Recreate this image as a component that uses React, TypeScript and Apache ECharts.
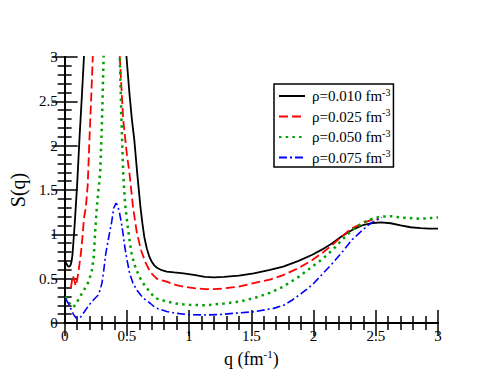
import React, { useEffect, useRef } from "react";
import * as echarts from "echarts";

// rho = 0.010 fm^-3 (black, solid)
const qBlack = [0.005, 0.015, 0.027, 0.037, 0.047, 0.055, 0.063, 0.08, 0.1, 0.12, 0.14, 0.155, 0.17, 0.49, 0.497, 0.52, 0.54, 0.56, 0.583, 0.609, 0.625, 0.64, 0.66, 0.68, 0.7, 0.72, 0.745, 0.78, 0.82, 0.88, 0.955, 1.05, 1.126, 1.2, 1.28, 1.4, 1.52, 1.65, 1.756, 1.88, 1.99, 2.07, 2.15, 2.23, 2.31, 2.39, 2.46, 2.54, 2.62, 2.7, 2.78, 2.86, 2.93, 3.0];
const sBlack = [0.7, 0.665, 0.64, 0.635, 0.65, 0.69, 0.77, 1.1, 1.55, 2.1, 2.6, 3.0, 3.4, 3.4, 3.0, 2.6, 2.3, 2.06, 1.69, 1.31, 1.12, 0.97, 0.84, 0.75, 0.69, 0.65, 0.62, 0.595, 0.58, 0.57, 0.56, 0.54, 0.52, 0.515, 0.52, 0.535, 0.56, 0.6, 0.635, 0.7, 0.77, 0.83, 0.9, 0.98, 1.05, 1.1, 1.125, 1.135, 1.125, 1.1, 1.08, 1.07, 1.065, 1.065];

// rho = 0.025 fm^-3 (red, dashed)
const qRed = [0.05, 0.058, 0.065, 0.075, 0.088, 0.1, 0.115, 0.13, 0.142, 0.155, 0.17, 0.185, 0.2, 0.215, 0.226, 0.24, 0.43, 0.443, 0.47, 0.5, 0.52, 0.55, 0.58, 0.614, 0.65, 0.69, 0.74, 0.78, 0.82, 0.89, 0.955, 1.05, 1.126, 1.2, 1.28, 1.4, 1.52, 1.65, 1.756, 1.88, 1.99, 2.07, 2.15, 2.23, 2.31, 2.4, 2.46, 2.52];
const sRed = [0.39, 0.47, 0.53, 0.5, 0.42, 0.48, 0.62, 0.78, 0.95, 1.18, 1.3, 1.55, 2.1, 2.6, 3.0, 3.5, 3.5, 3.0, 2.3, 1.9, 1.7, 1.3, 1.02, 0.82, 0.68, 0.57, 0.5, 0.48, 0.466, 0.43, 0.41, 0.39, 0.383, 0.383, 0.39, 0.41, 0.45, 0.49, 0.54, 0.62, 0.71, 0.79, 0.88, 0.98, 1.07, 1.13, 1.16, 1.17];

// rho = 0.050 fm^-3 (green, dotted)
const qGreen = [0.01, 0.03, 0.05, 0.07, 0.09, 0.12, 0.155, 0.194, 0.22, 0.234, 0.247, 0.26, 0.286, 0.3, 0.313, 0.32, 0.435, 0.443, 0.457, 0.47, 0.485, 0.51, 0.535, 0.56, 0.6, 0.64, 0.69, 0.73, 0.8, 0.89, 1.0, 1.126, 1.28, 1.4, 1.52, 1.65, 1.756, 1.88, 1.99, 2.07, 2.15, 2.23, 2.31, 2.41, 2.48, 2.54, 2.62, 2.7, 2.86, 3.0];
const sGreen = [0.3, 0.24, 0.2, 0.18, 0.21, 0.29, 0.37, 0.47, 0.6, 0.75, 1.07, 1.33, 1.71, 2.27, 3.0, 3.4, 3.4, 3.0, 2.27, 1.71, 1.35, 1.05, 0.8, 0.66, 0.52, 0.43, 0.34, 0.28, 0.25, 0.22, 0.205, 0.2, 0.22, 0.24, 0.28, 0.34, 0.41, 0.52, 0.635, 0.72, 0.82, 0.94, 1.05, 1.14, 1.18, 1.2, 1.205, 1.19, 1.175, 1.19];

// rho = 0.075 fm^-3 (blue, dash-dot)
const qBlue = [0.005, 0.03, 0.05, 0.07, 0.09, 0.11, 0.13, 0.16, 0.194, 0.23, 0.273, 0.3, 0.313, 0.33, 0.352, 0.378, 0.395, 0.412, 0.425, 0.44, 0.457, 0.47, 0.483, 0.5, 0.522, 0.549, 0.58, 0.614, 0.65, 0.69, 0.73, 0.82, 0.89, 1.0, 1.126, 1.25, 1.36, 1.52, 1.68, 1.76, 1.83, 1.9, 1.99, 2.07, 2.15, 2.23, 2.31, 2.38, 2.44, 2.5, 2.55];
const sBlue = [0.28, 0.22, 0.16, 0.1, 0.06, 0.05, 0.07, 0.13, 0.2, 0.26, 0.32, 0.45, 0.58, 0.78, 0.95, 1.14, 1.3, 1.35, 1.33, 1.25, 1.12, 1.0, 0.86, 0.72, 0.56, 0.45, 0.37, 0.31, 0.26, 0.22, 0.17, 0.13, 0.11, 0.095, 0.09, 0.095, 0.11, 0.127, 0.165, 0.2, 0.26, 0.33, 0.43, 0.55, 0.67, 0.8, 0.94, 1.03, 1.105, 1.16, 1.19];

const densities = ["0.010", "0.025", "0.050", "0.075"];

const FONT = "Liberation Serif";

function pairs(q: number[], s: number[]) {
  return q.map((v, i) => [v, s[i]]);
}

export default function App() {
  const ref = useRef<HTMLDivElement>(null);
  useEffect(() => {
    if (!ref.current) return;
    const chart = echarts.init(ref.current, undefined, { renderer: "svg" });
    const baseAxis = {
      type: "value",
      min: 0,
      max: 3,
      interval: 0.5,
      splitLine: { show: false },
      axisLine: { show: true, lineStyle: { color: "#000", width: 2 } },
      axisTick: { show: true, inside: true, length: 13, lineStyle: { color: "#000", width: 1.5 } },
      minorTick: { show: true, splitNumber: 5, length: 7, lineStyle: { color: "#000", width: 1.5 } },
    };
    const names = densities.map((d) => `ρ=${d} fm-3`);
    const styles = [
      { color: "#000000", type: "solid", width: 1.8 },
      { color: "#ff0000", type: [9, 4], width: 1.8 },
      { color: "#00a000", type: [2.5, 4.2], width: 2.5 },
      { color: "#0000ff", type: [8, 3, 2, 3], width: 1.6 },
    ];
    const datas = [
      pairs(qBlack, sBlack),
      pairs(qRed, sRed),
      pairs(qGreen, sGreen),
      pairs(qBlue, sBlue),
    ];
    chart.setOption({
      animation: false,
      backgroundColor: "#ffffff",
      grid: { left: 57, top: 57, right: 55, bottom: 58, show: false },
      legend: {
        orient: "vertical",
        left: 274,
        top: 84,
        padding: [3, 3, 2, 4],
        itemGap: 4,
        itemWidth: 26,
        itemHeight: 14,
        borderColor: "#000",
        borderWidth: 1.5,
        borderRadius: 0,
        backgroundColor: "#fff",
        itemStyle: { opacity: 0 },
        data: names,
        formatter: (name: string) => {
          const base = name.replace(/-3$/, "");
          return `{n|${base}}{s|-3}`;
        },
        textStyle: {
          color: "#000",
          fontFamily: FONT,
          rich: {
            n: { fontSize: 15, fontFamily: FONT, color: "#000", lineHeight: 18, padding: [0, 0, 0, 2] },
            s: { fontSize: 10, fontFamily: FONT, color: "#000", verticalAlign: "top", lineHeight: 10 },
          },
        },
      },
      xAxis: [
        {
          ...baseAxis,
          position: "bottom",
          name: "{n|q (fm}{s|-1}{n|)}",
          nameLocation: "middle",
          nameGap: 25,
          nameTextStyle: {
            color: "#000",
            fontFamily: FONT,
            rich: {
              n: { fontSize: 18, fontFamily: FONT, color: "#000", lineHeight: 22 },
              s: { fontSize: 11, fontFamily: FONT, color: "#000", verticalAlign: "top", lineHeight: 11 },
            },
          },
          axisLabel: { color: "#000", fontFamily: FONT, fontSize: 15, margin: 5 },
        },
        {
          ...baseAxis,
          position: "top",
          axisLabel: { show: false },
        },
      ],
      yAxis: [
        {
          ...baseAxis,
          position: "left",
          name: "S(q)",
          nameLocation: "middle",
          nameGap: 30,
          nameTextStyle: { color: "#000", fontFamily: FONT, fontSize: 20 },
          axisLabel: { color: "#000", fontFamily: FONT, fontSize: 15, margin: 7 },
        },
        {
          ...baseAxis,
          position: "right",
          axisLabel: { show: false },
        },
      ],
      series: datas.map((d, i) => ({
        type: "line",
        name: names[i],
        data: d,
        xAxisIndex: 0,
        yAxisIndex: 0,
        symbol: "none",
        showSymbol: false,
        smooth: false,
        clip: true,
        lineStyle: styles[i],
        itemStyle: { color: styles[i].color },
        emphasis: { disabled: true },
      })),
    });
    return () => chart.dispose();
  }, []);
  return <div ref={ref} style={{ width: 493, height: 381, position: "absolute", left: 0, top: 0 }} />;
}
